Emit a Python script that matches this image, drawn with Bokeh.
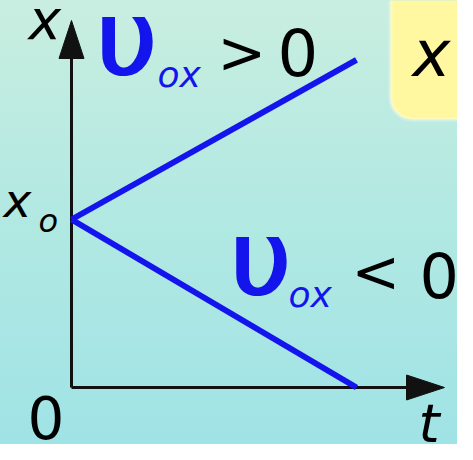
import numpy as np
from bokeh.plotting import figure
from bokeh.models import Range1d, BoxAnnotation
from bokeh.core.properties import value
from bokeh.embed import file_html
from bokeh.resources import INLINE

# ---- data ----
t_vals = [0.0, 1.0]          # time, start and end
x_up = [1.0, 1.95]           # x(t) for v_ox > 0
x_down = [1.0, 0.0]          # x(t) for v_ox < 0
axis_labels = ["x", "t"]
x0_label = ["x", "o"]
origin_label = "0"
box_label = "x"

# ---- layout constants (reference pixel geometry) ----
W, H = 457, 444
MARGIN = 8
ORIG_PX = (79, 395)     # reference pixel of origin
SX, SY = 285.0, 168.0   # pixels per data unit

def R(px, py):
    """reference-pixel -> data coords"""
    return ((px - ORIG_PX[0]) / SX, (ORIG_PX[1] - py) / SY)

x_start, y_end = R(MARGIN, MARGIN)
x_end, y_start = R(MARGIN + W, MARGIN + H)

p = figure(width=W, height=H, x_range=Range1d(x_start, x_end), y_range=Range1d(y_start, y_end),
           output_backend="svg", toolbar_location=None, min_border=0,
           x_axis_type=None, y_axis_type=None)
p.grid.visible = False
p.outline_line_color = None
p.background_fill_alpha = 0
p.border_fill_alpha = 0
p.styles = {"background": "linear-gradient(180deg, #c9eee0 0%, #b3e9e2 45%, #a0e3e6 100%)"}

# yellow box (top-right), drawn beneath the texts
bl, bb = R(398, 127)
p.add_layout(BoxAnnotation(left=bl, bottom=bb, right=x_end + 0.2, top=y_end + 0.3,
                           fill_color="#fff8a0", fill_alpha=1.0, line_color="white",
                           line_width=4, border_radius=22, level="underlay"))

# axes
AX_COL = "#111111"
ty_top = R(0, 28)[1]
tx_end = R(452, 0)[0]
p.line([0, 0], [0, ty_top - 30 / SY], line_color=AX_COL, line_width=3)
p.line([0, tx_end - 30 / SX], [0, 0], line_color=AX_COL, line_width=3)
AL, AW = 38.0, 25.0
p.patch([0 - AW / 2 / SX, 0, 0 + AW / 2 / SX], [ty_top - AL / SY, ty_top, ty_top - AL / SY],
        fill_color=AX_COL, line_color=AX_COL)
p.patch([tx_end - AL / SX, tx_end, tx_end - AL / SX], [-AW / 2 / SY, 0, AW / 2 / SY],
        fill_color=AX_COL, line_color=AX_COL)

# the two lines
BLUE = "#1414ec"
p.line(t_vals, x_up, line_color=BLUE, line_width=6)
p.line(t_vals, x_down, line_color=BLUE, line_width=6)

FONT = "DejaVu Sans"
BASE_SHIFT = 0.355   # svg text sits this many em below the anchor

def lab(text, px, baseline, size, style="normal", color="black", bold_px=0):
    x, y = R(px, baseline - BASE_SHIFT * size)
    offs = [0.0] if bold_px == 0 else [0.0, bold_px / 2, bold_px]
    for o in offs:
        p.text(x=[x], y=[y], text=[text], x_offset=o, text_font=value(FONT),
               text_font_size=f"{size}px", text_font_style=style, text_color=color,
               text_baseline="alphabetic", text_align="left")

lab(axis_labels[0], 36, 47, 55, "italic")
lab(box_label, 420, 84, 64, "italic")
lab(x0_label[0], 11, 225, 47, "italic")
lab(x0_label[1], 46, 240, 32, "italic")
lab(origin_label, 35, 446, 58)
lab(axis_labels[1], 426, 450, 54, "italic")

# v_ox > 0
lab("υ", 102, 84, 106, "normal", BLUE, bold_px=3)
lab("ox", 165, 95, 36, "italic", BLUE)
lab(">", 225, 81, 58)
lab("0", 285, 83, 64)
# v_ox < 0
lab("υ", 236, 304, 106, "normal", BLUE, bold_px=3)
lab("ox", 296, 315, 36, "italic", BLUE)
lab("<", 359, 300, 58)
lab("0", 427, 305, 62)

open("out.html", "w").write(file_html(p, INLINE))
